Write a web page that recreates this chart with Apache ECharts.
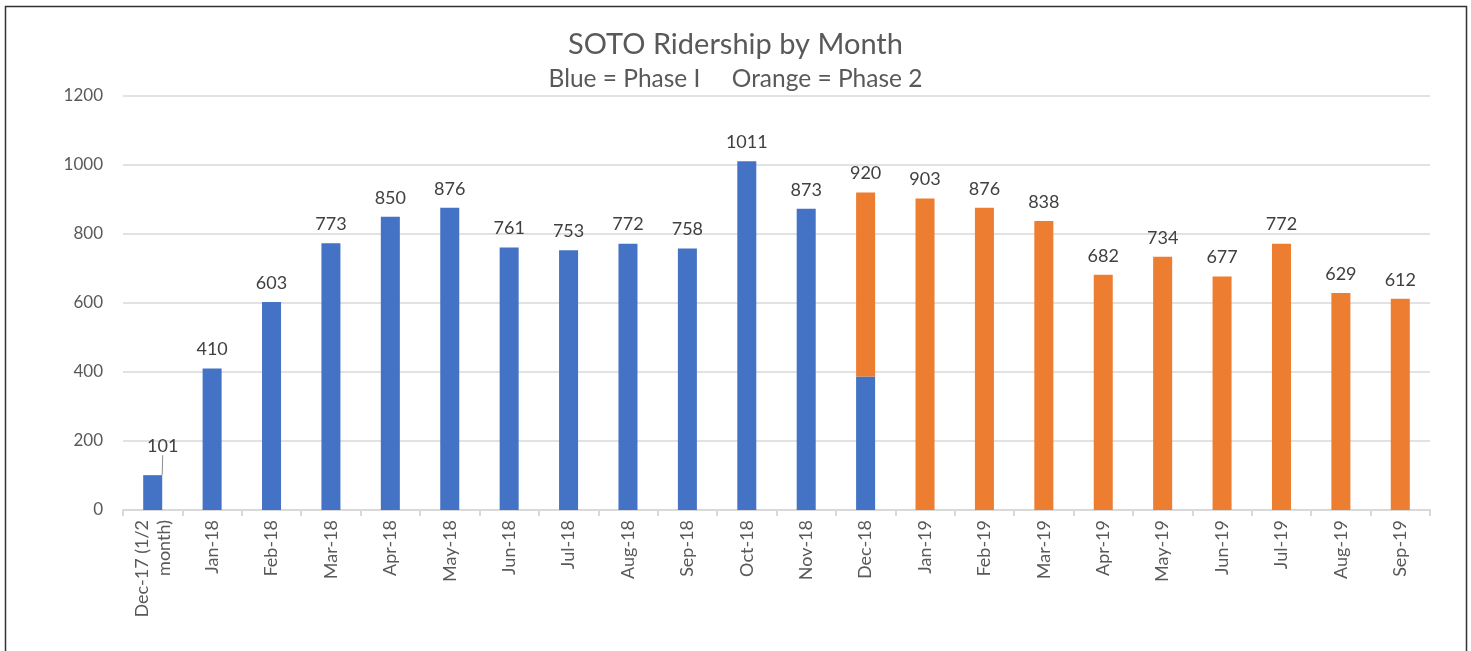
<!DOCTYPE html>
<html><head><meta charset="utf-8">
<script src="https://cdn.jsdelivr.net/npm/echarts@6/dist/echarts.min.js"></script>
<style>html,body{margin:0;padding:0;background:#fff}#c{width:1471px;height:651px}</style>
</head><body><div id="c"></div>
<script>
const categories = ["Dec-17 (1/2\nmonth)","Jan-18","Feb-18","Mar-18","Apr-18","May-18","Jun-18","Jul-18","Aug-18","Sep-18","Oct-18","Nov-18","Dec-18","Jan-19","Feb-19","Mar-19","Apr-19","May-19","Jun-19","Jul-19","Aug-19","Sep-19"];
const phase1 = [101,410,603,773,850,876,761,753,772,758,1011,873,387,null,null,null,null,null,null,null,null,null];
const phase2 = [null,null,null,null,null,null,null,null,null,null,null,null,533,903,876,838,682,734,677,772,629,612];
const totals = [101,410,603,773,850,876,761,753,772,758,1011,873,920,903,876,838,682,734,677,772,629,612];
const yTicks = [0,200,400,600,800,1000,1200];

const FONT = 'Lato, "Open Sans", sans-serif';
const phase1Items = phase1.map((v,i)=> i===0 ? {value:v,labelLine:{show:true}} : v);
const chart = echarts.init(document.getElementById('c'), null, {renderer:'canvas'});
chart.setOption({
  animation:false,
  backgroundColor:'#fff',
  textStyle:{fontFamily:FONT},
  title:{
    text:'SOTO Ridership by Month',
    subtext:'Blue = Phase I     Orange = Phase 2',
    left:'center', top:25, itemGap:8,
    textStyle:{fontFamily:FONT,fontSize:29,fontWeight:'normal',color:'#595959'},
    subtextStyle:{fontFamily:FONT,fontSize:24.5,color:'#595959'}
  },
  graphic:[{type:'rect',shape:{x:5.5,y:6.5,width:1461,height:660},style:{fill:'none',stroke:'#333',lineWidth:1.5},silent:true}],
  grid:{left:123,right:41,top:96,bottom:141,containLabel:false},
  xAxis:{
    type:'category', data:categories, boundaryGap:true,
    axisLine:{lineStyle:{color:'#d9d9d9',width:2}},
    axisTick:{show:true,alignWithLabel:false,length:6,lineStyle:{color:'#d9d9d9',width:2}},
    axisLabel:{rotate:90,interval:0,color:'#595959',fontSize:18,fontFamily:FONT,margin:10,lineHeight:22,align:'right'}
  },
  yAxis:{
    type:'value', min:yTicks[0], max:yTicks[yTicks.length-1], interval:200,
    axisLine:{show:false}, axisTick:{show:false},
    splitLine:{lineStyle:{color:'#d9d9d9',width:1.5}},
    axisLabel:{color:'#595959',fontSize:17,fontFamily:FONT,margin:20,formatter:v=>String(v)}
  },
  series:[
    {
      name:'Phase I', type:'bar', stack:'s', data:phase1Items, barWidth:'32%',
      itemStyle:{color:'#4472c4'},
      label:{show:true,position:'top',color:'#404040',fontSize:18,fontFamily:FONT,distance:10,
        formatter:p=> (phase2[p.dataIndex]==null ? String(totals[p.dataIndex]) : '')},
      labelLine:{show:false,lineStyle:{color:'#8c8c8c',width:1}},
      labelLayout:p=> (p.dataIndex===0 ? {dy:-10,dx:10} : {})
    },
    {
      name:'Phase 2', type:'bar', stack:'s', data:phase2, barWidth:'32%',
      itemStyle:{color:'#ed7d31'},
      label:{show:true,position:'top',color:'#404040',fontSize:18,fontFamily:FONT,distance:10,
        formatter:p=> String(totals[p.dataIndex])}
    }
  ]
});
</script></body></html>
